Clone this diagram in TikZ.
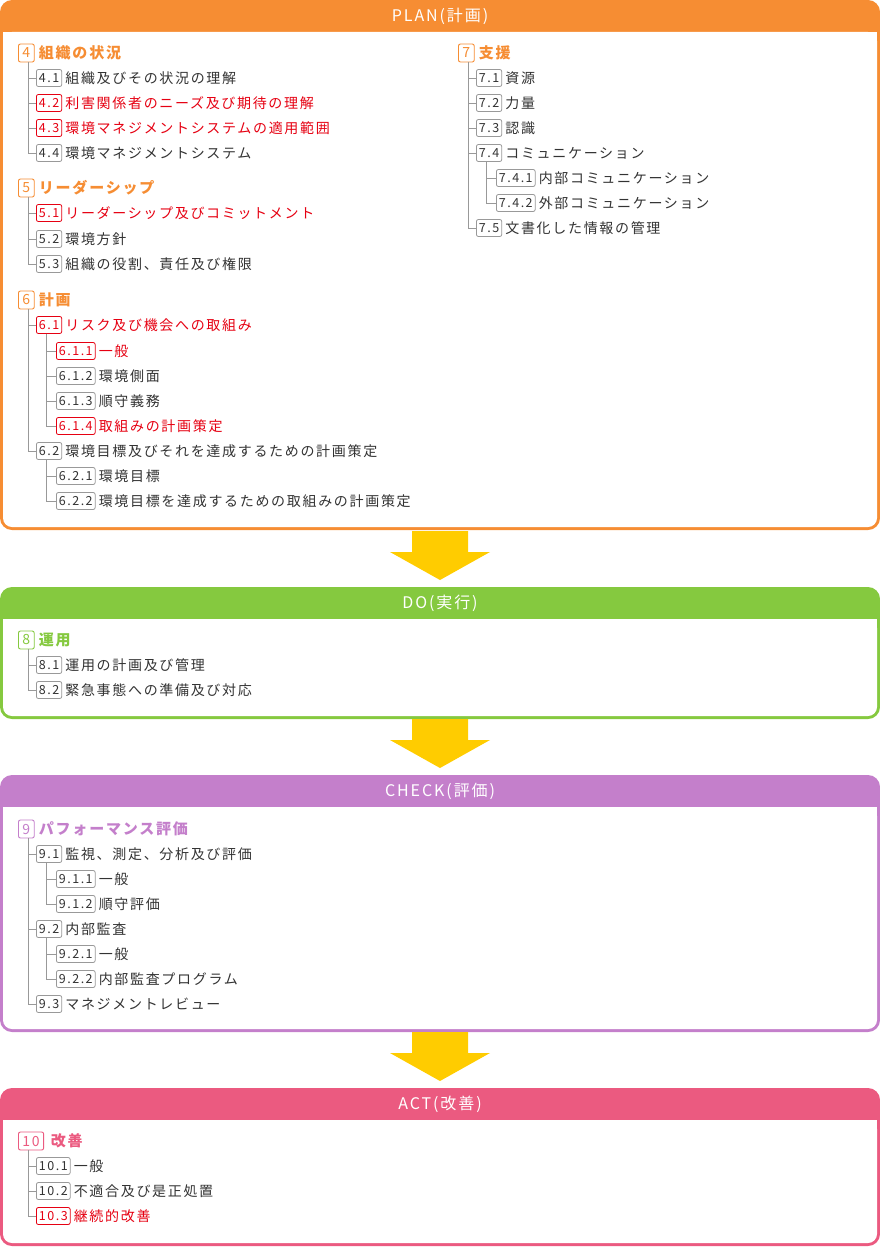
\documentclass[tikz,border=0pt]{standalone}
\usepackage{fontspec}
\setmainfont[LetterSpace=12]{Noto Sans CJK JP}
\definecolor{cor}{HTML}{F68D33}
\definecolor{cgr}{HTML}{85C93F}
\definecolor{cpu}{HTML}{C47FCB}
\definecolor{cpk}{HTML}{EB5A80}
\definecolor{cred}{HTML}{E60012}
\definecolor{ctx}{HTML}{333333}
\definecolor{cln}{HTML}{999999}
\definecolor{cyl}{HTML}{FFCC00}
\tikzset{
 badgen/.style={draw=cln, text=ctx, rounded corners=2, inner xsep=2.5pt, inner ysep=0pt, minimum height=17pt, line width=0.8pt, font=\fontsize{12.5}{12}\selectfont},
 badger/.style={badgen, draw=cred, text=cred},
 lbln/.style={text=ctx, inner sep=2pt, font=\fontsize{14}{14}\selectfont},
 lblr/.style={lbln, text=cred},
 hbadge/.style={draw=#1, text=#1, rounded corners=2, inner xsep=4pt, inner ysep=0pt, minimum height=18pt, line width=0.9pt, font=\fontsize{14}{14}\selectfont},
 hlbl/.style={text=#1, inner sep=2pt, font=\fontsize{15}{15}\selectfont\bfseries},
 conn/.style={draw=cln, line width=0.8pt},
 title/.style={text=white, font=\fontsize{16}{16}\selectfont},
}
\newcommand\ent[6]{\node[badge#6, anchor=west] (#1) at (#2,#3) {#4};
\node[lbl#6, anchor=west] (#1t) at ([xshift=1]#1.east) {#5};}
\newcommand\hent[6]{\node[hbadge=#6, anchor=west] (#1) at (#2,#3) {#4};
\node[hlbl=#6, anchor=west] (#1t) at ([xshift=2]#1.east) {#5};}
\newcommand\cn[2]{\draw[conn] ([xshift=10pt]#1.south west) |- (#2.west);}
\newcommand\panel[4]{\fill[#1, rounded corners=12pt] (0,#2) rectangle (880,#4);
\fill[white, rounded corners=9pt] (3,#3) rectangle (877,#4-3);
\fill[white] (3,#3) rectangle (877,#3+20);}
\newcommand\arr[1]{\fill[cyl] (412,#1) -- (468,#1) -- (468,#1+21) -- (490,#1+21) -- (440,#1+49) -- (390,#1+21) -- (412,#1+21) -- cycle;}
\begin{document}
\begin{tikzpicture}[x=1pt,y=-1pt]
\useasboundingbox (0,0) rectangle (880,1247);
\panel{cor}{0}{32}{530}
\panel{cgr}{587}{619}{719}
\panel{cpu}{775}{807}{1032}
\panel{cpk}{1088}{1120}{1246}
\arr{531}\arr{719}\arr{1032}
\node[title] (tp) at (440,16) {PLAN(計画)};
\node[title] (td) at (440,603) {DO(実行)};
\node[title] (tc) at (440,791) {CHECK(評価)};
\node[title] (ta) at (440,1104) {ACT(改善)};
% PLAN left
\hent{b4}{18}{53}{4}{組織の状況}{cor}
\ent{b41}{36}{78}{4.1}{組織及びその状況の理解}{n}
\ent{b42}{36}{103}{4.2}{利害関係者のニーズ及び期待の理解}{r}
\ent{b43}{36}{128}{4.3}{環境マネジメントシステムの適用範囲}{r}
\ent{b44}{36}{153}{4.4}{環境マネジメントシステム}{n}
\cn{b4}{b41}\cn{b4}{b42}\cn{b4}{b43}\cn{b4}{b44}
\hent{b5}{18}{188}{5}{リーダーシップ}{cor}
\ent{b51}{36}{213}{5.1}{リーダーシップ及びコミットメント}{r}
\ent{b52}{36}{239}{5.2}{環境方針}{n}
\ent{b53}{36}{264}{5.3}{組織の役割、責任及び権限}{n}
\cn{b5}{b51}\cn{b5}{b52}\cn{b5}{b53}
\hent{b6}{18}{300}{6}{計画}{cor}
\ent{b61}{36}{325}{6.1}{リスク及び機会への取組み}{r}
\ent{b611}{56}{351}{6.1.1}{一般}{r}
\ent{b612}{56}{376}{6.1.2}{環境側面}{n}
\ent{b613}{56}{401}{6.1.3}{順守義務}{n}
\ent{b614}{56}{426}{6.1.4}{取組みの計画策定}{r}
\ent{b62}{36}{451}{6.2}{環境目標及びそれを達成するための計画策定}{n}
\ent{b621}{56}{476}{6.2.1}{環境目標}{n}
\ent{b622}{56}{501}{6.2.2}{環境目標を達成するための取組みの計画策定}{n}
\cn{b6}{b61}\cn{b6}{b62}
\cn{b61}{b611}\cn{b61}{b612}\cn{b61}{b613}\cn{b61}{b614}
\cn{b62}{b621}\cn{b62}{b622}
% PLAN right
\hent{b7}{458}{53}{7}{支援}{cor}
\ent{b71}{476}{78}{7.1}{資源}{n}
\ent{b72}{476}{103}{7.2}{力量}{n}
\ent{b73}{476}{128}{7.3}{認識}{n}
\ent{b74}{476}{153}{7.4}{コミュニケーション}{n}
\ent{b741}{496}{178}{7.4.1}{内部コミュニケーション}{n}
\ent{b742}{496}{203}{7.4.2}{外部コミュニケーション}{n}
\ent{b75}{476}{228}{7.5}{文書化した情報の管理}{n}
\cn{b7}{b71}\cn{b7}{b72}\cn{b7}{b73}\cn{b7}{b74}\cn{b7}{b75}
\cn{b74}{b741}\cn{b74}{b742}
% DO
\hent{b8}{18}{640}{8}{運用}{cgr}
\ent{b81}{36}{665}{8.1}{運用の計画及び管理}{n}
\ent{b82}{36}{690}{8.2}{緊急事態への準備及び対応}{n}
\cn{b8}{b81}\cn{b8}{b82}
% CHECK
\hent{b9}{18}{829}{9}{パフォーマンス評価}{cpu}
\ent{b91}{36}{854}{9.1}{監視、測定、分析及び評価}{n}
\ent{b911}{56}{879}{9.1.1}{一般}{n}
\ent{b912}{56}{904}{9.1.2}{順守評価}{n}
\ent{b92}{36}{929}{9.2}{内部監査}{n}
\ent{b921}{56}{954}{9.2.1}{一般}{n}
\ent{b922}{56}{979}{9.2.2}{内部監査プログラム}{n}
\ent{b93}{36}{1004}{9.3}{マネジメントレビュー}{n}
\cn{b9}{b91}\cn{b9}{b92}\cn{b9}{b93}
\cn{b91}{b911}\cn{b91}{b912}\cn{b92}{b921}\cn{b92}{b922}
% ACT
\hent{b10}{18}{1141}{10}{\,改善}{cpk}
\ent{b101}{36}{1166}{10.1}{一般}{n}
\ent{b102}{36}{1191}{10.2}{不適合及び是正処置}{n}
\ent{b103}{36}{1216}{10.3}{継続的改善}{r}
\cn{b10}{b101}\cn{b10}{b102}\cn{b10}{b103}
\end{tikzpicture}
\end{document}
